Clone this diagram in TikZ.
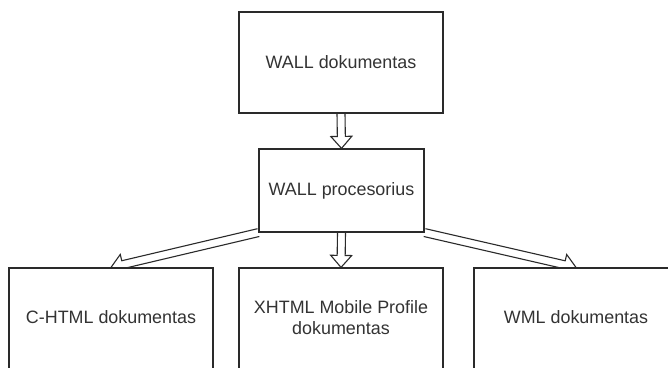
\documentclass[tikz,border=0pt]{standalone}
\usepackage{fontspec}
\setmainfont{Liberation Sans}
\usetikzlibrary{calc,backgrounds}

\definecolor{linegray}{HTML}{2A2A2A}
\definecolor{textgray}{HTML}{333333}

\tikzset{
  docbox/.style={draw=linegray, line width=1.2pt, fill=white, inner sep=0pt,
    align=center, text=textgray, font=\fontsize{17.9}{21}\selectfont},
  doctext/.style={inner sep=0pt, align=center, text=textgray,
    font=\fontsize{17.9}{21}\selectfont},
  hollow/.style={draw=linegray, line width=1.1pt, fill=white, line join=miter},
}

% Hollow block arrow from #1 to #2 (shaft 8pt wide, head 21pt wide, 12pt long)
\newcommand\hollowarrow[2]{%
  \coordinate (hb) at ($(#2)!12pt!(#1)$);
  \path[hollow]
    ($(#1)!4pt!90:(#2)$) -- ($(hb)!4pt!-90:(#1)$) -- ($(hb)!10.5pt!-90:(#1)$)
    -- (#2) -- ($(hb)!10.5pt!90:(#1)$) -- ($(hb)!4pt!90:(#1)$)
    -- ($(#1)!4pt!-90:(#2)$);
}

\begin{document}
\begin{tikzpicture}[x=1pt, y=1pt]
  \clip (0,0) rectangle (668,367);

  \node[docbox, minimum width=204, minimum height=101] (wall) at (341,304.5) {WALL dokumentas};
  \node[docbox, minimum width=165, minimum height=83] (proc) at (341.5,176.5) {WALL procesorius};

  % lower row: boxes run past the bottom edge, labels sit 50pt below their tops
  \node[docbox, minimum width=204, minimum height=130] (chtml) at (111,34) {};
  \node[docbox, minimum width=204, minimum height=130] (xhtml) at (341,34) {};
  \node[docbox, minimum width=204, minimum height=130] (wml) at (576,34) {};
  \node[doctext] (chtml-t) at ($(chtml.north)+(0,-50)$) {C-HTML dokumentas};
  \node[doctext] (xhtml-t) at ($(xhtml.north)+(0,-50)$) {XHTML Mobile Profile\\dokumentas};
  \node[doctext] (wml-t) at ($(wml.north)+(0,-50)$) {WML dokumentas};

  \begin{pgfonlayer}{background}
    \fill[white] (0,0) rectangle (668,367);
    \hollowarrow{wall.south}{proc.north}
    \hollowarrow{proc.south}{xhtml.north}
    \hollowarrow{proc.south west}{chtml.north}
    \hollowarrow{proc.south east}{wml.north}
  \end{pgfonlayer}
\end{tikzpicture}
\end{document}
